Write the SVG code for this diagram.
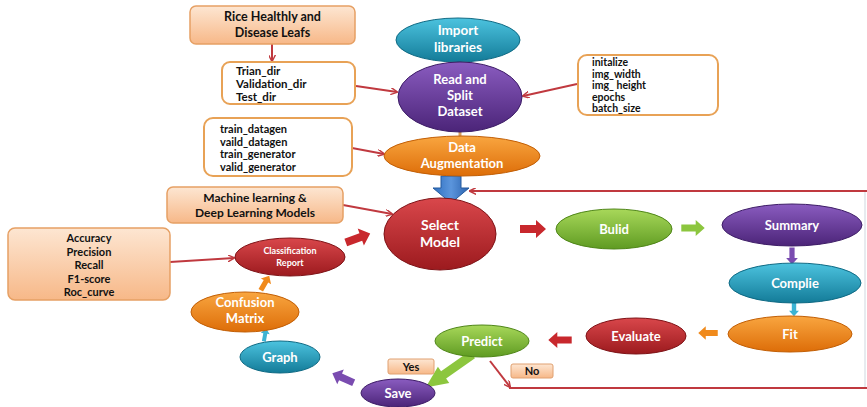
<svg xmlns="http://www.w3.org/2000/svg" width="867" height="407" viewBox="0 0 867 407">
<style>
text{font-family:Lato,"Open Sans","Liberation Sans",sans-serif;font-weight:bold}
.bx{fill:url(#peach);stroke:#e6a064;stroke-width:1.5}
.wb{fill:#fff;stroke:#e8a256;stroke-width:2}
.bt{font-size:12px;fill:#111}
.et{font-size:13px;fill:#fff;text-anchor:middle}
.ln{fill:none;stroke:#c0393f;stroke-width:2}
.tan{fill:none;stroke:#d8a160;stroke-width:3}
.lab{fill:url(#peach);stroke:#e0a070;stroke-width:1}
</style>
<defs>
<linearGradient id="peach" x1="0" y1="0" x2="0" y2="1"><stop offset="0" stop-color="#fde6d2"/><stop offset="1" stop-color="#f7b888"/></linearGradient>
<linearGradient id="teal" x1="0" y1="0" x2="0" y2="1"><stop offset="0" stop-color="#4cc3df"/><stop offset="1" stop-color="#137b98"/></linearGradient>
<linearGradient id="purple" x1="0" y1="0" x2="0" y2="1"><stop offset="0" stop-color="#8a5cc0"/><stop offset="1" stop-color="#4b2478"/></linearGradient>
<linearGradient id="orange" x1="0" y1="0" x2="0" y2="1"><stop offset="0" stop-color="#f9a640"/><stop offset="1" stop-color="#dd6d08"/></linearGradient>
<linearGradient id="red" x1="0" y1="0" x2="0" y2="1"><stop offset="0" stop-color="#d9474b"/><stop offset="1" stop-color="#9c1a1e"/></linearGradient>
<linearGradient id="green" x1="0" y1="0" x2="0" y2="1"><stop offset="0" stop-color="#a8d85a"/><stop offset="1" stop-color="#5f9b22"/></linearGradient>
<linearGradient id="blue" x1="0" y1="0" x2="1" y2="0"><stop offset="0" stop-color="#2f6fc0"/><stop offset="0.5" stop-color="#5b95dc"/><stop offset="1" stop-color="#2a62ae"/></linearGradient>
<path id="blk" d="M-13,-4 L3,-4 L3,-9 L13,0 L3,9 L3,4 L-13,4 Z"/>
<marker id="ah" viewBox="0 0 10 10" refX="9" refY="5" markerWidth="7" markerHeight="7" orient="auto" markerUnits="userSpaceOnUse"><path d="M0,0 L10,5 L0,10" fill="none" stroke="#c0393f" stroke-width="2"/></marker>
</defs>

<g id="connectors">
<line class="tan" x1="460" y1="60" x2="460" y2="65"/>
<line class="tan" x1="460" y1="130" x2="460" y2="138"/>
<line class="ln" x1="272" y1="44" x2="272" y2="61" marker-end="url(#ah)"/>
<line class="ln" x1="356" y1="86" x2="397" y2="92" marker-end="url(#ah)"/>
<line class="ln" x1="577" y1="84" x2="523" y2="96" marker-end="url(#ah)"/>
<line class="ln" x1="352" y1="148" x2="384" y2="154" marker-end="url(#ah)"/>
<line class="ln" x1="343" y1="205" x2="392" y2="214" marker-end="url(#ah)"/>
<line class="ln" x1="170" y1="262" x2="234" y2="258" marker-end="url(#ah)"/>
<line class="ln" x1="867" y1="191" x2="470" y2="191" marker-end="url(#ah)"/>
<line class="ln" x1="490" y1="361" x2="510" y2="387" marker-end="url(#ah)"/>
<line class="ln" x1="509" y1="388" x2="867" y2="388"/>
<line x1="865" y1="192" x2="865" y2="387" stroke="#dfe4ea" stroke-width="1.5"/>
<path d="M441,176 L461,176 L461,188 L469,188 L451,203 L433,188 L441,188 Z" fill="url(#blue)" stroke="#245a9e" stroke-width="1"/>
<use href="#blk" fill="#c8282d" transform="translate(533,229)"/>
<use href="#blk" fill="#8cc63e" transform="translate(693,228) scale(0.9)"/>
<use href="#blk" fill="#7a4cb0" transform="translate(792,256) rotate(90) scale(0.65)"/>
<use href="#blk" fill="#3cb3d3" transform="translate(794,309) rotate(90) scale(0.55)"/>
<use href="#blk" fill="#f08a1c" transform="translate(708,333) rotate(180) scale(0.75)"/>
<use href="#blk" fill="#c8282d" transform="translate(560,340) rotate(180) scale(0.9)"/>
<use href="#blk" fill="#8cc63e" transform="translate(449,371) rotate(145) scale(2.2,1.1)"/>
<use href="#blk" fill="#7a4cb0" transform="translate(343,378) rotate(-156) scale(0.9)"/>
<use href="#blk" fill="#3cb3d3" transform="translate(265,335) rotate(-80) scale(0.5)"/>
<use href="#blk" fill="#f08a1c" transform="translate(265,283) rotate(-60) scale(0.65)"/>
<use href="#blk" fill="#c8282d" transform="translate(358,238) rotate(-20)"/>
</g>

<g id="rice">
<rect class="bx" x="190" y="6" width="165" height="38" rx="6"/>
<text class="bt" x="272.5" y="21" text-anchor="middle" style="font-size:12.5px">Rice Healthly and</text>
<text class="bt" x="272.5" y="37" text-anchor="middle" style="font-size:12.5px">Disease Leafs</text>
</g>
<g id="dirs">
<rect class="wb" x="222" y="62" width="133" height="42" rx="8"/>
<text class="bt" x="236" y="75" style="font-size:11.5px">Trian_dir</text>
<text class="bt" x="236" y="88" style="font-size:11.5px">Validation_dir</text>
<text class="bt" x="236" y="101" style="font-size:11.5px">Test_dir</text>
</g>
<g id="init">
<rect class="wb" x="578" y="55" width="140" height="60" rx="9"/>
<text class="bt" x="592" y="66" style="font-size:10.5px">initalize</text>
<text class="bt" x="592" y="77.5" style="font-size:10.5px">img_width</text>
<text class="bt" x="592" y="89" style="font-size:10.5px">img_ height</text>
<text class="bt" x="592" y="100.5" style="font-size:10.5px">epochs</text>
<text class="bt" x="592" y="112" style="font-size:10.5px">batch_size</text>
</g>
<g id="gens">
<rect class="wb" x="204" y="118" width="148" height="58" rx="9"/>
<text class="bt" x="220" y="133" style="font-size:11px">train_datagen</text>
<text class="bt" x="220" y="145.5" style="font-size:11px">vaild_datagen</text>
<text class="bt" x="220" y="158" style="font-size:11px">train_generator</text>
<text class="bt" x="220" y="170.5" style="font-size:11px">valid_generator</text>
</g>
<g id="models">
<rect class="bx" x="167" y="187" width="176" height="36" rx="6"/>
<text class="bt" x="255" y="202" text-anchor="middle">Machine learning &amp;</text>
<text class="bt" x="255" y="217" text-anchor="middle">Deep Learning  Models</text>
</g>
<g id="metrics">
<rect class="bx" x="8" y="228" width="162" height="72" rx="7"/>
<text class="bt" x="89" y="242" text-anchor="middle" style="font-size:11px">Accuracy</text>
<text class="bt" x="89" y="255.5" text-anchor="middle" style="font-size:11px">Precision</text>
<text class="bt" x="89" y="269" text-anchor="middle" style="font-size:11px">Recall</text>
<text class="bt" x="89" y="282.5" text-anchor="middle" style="font-size:11px">F1-score</text>
<text class="bt" x="89" y="296" text-anchor="middle" style="font-size:11px">Roc_curve</text>
</g>

<g id="import">
<ellipse cx="458" cy="40" rx="62" ry="22" fill="url(#teal)" stroke="#0f6a84"/>
<text class="et" x="458" y="35" style="font-size:13.5px">Import</text>
<text class="et" x="458" y="52" style="font-size:13.5px">libraries</text>
</g>
<g id="read">
<ellipse cx="460" cy="97" rx="62" ry="35" fill="url(#purple)" stroke="#3d1c66"/>
<text class="et" x="460" y="84">Read and</text>
<text class="et" x="460" y="100">Split</text>
<text class="et" x="460" y="116">Dataset</text>
</g>
<g id="augment">
<ellipse cx="462" cy="156" rx="78" ry="20" fill="url(#orange)" stroke="#c25f06"/>
<text class="et" x="462" y="152">Data</text>
<text class="et" x="462" y="168">Augmentation</text>
</g>
<g id="select">
<ellipse cx="440" cy="234" rx="56" ry="36" fill="url(#red)" stroke="#7e1216"/>
<text class="et" x="440" y="230" style="font-size:14px">Select</text>
<text class="et" x="440" y="247" style="font-size:14px">Model</text>
</g>
<g id="build">
<ellipse cx="614" cy="229" rx="58" ry="20" fill="url(#green)" stroke="#4f8618"/>
<text class="et" x="614" y="234">Bulid</text>
</g>
<g id="summary">
<ellipse cx="792" cy="225" rx="70" ry="21" fill="url(#purple)" stroke="#3d1c66"/>
<text class="et" x="792" y="230">Summary</text>
</g>
<g id="compile">
<ellipse cx="795" cy="283" rx="66" ry="20" fill="url(#teal)" stroke="#0f6a84"/>
<text class="et" x="795" y="288">Complie</text>
</g>
<g id="fit">
<ellipse cx="790" cy="334" rx="62" ry="18" fill="url(#orange)" stroke="#c25f06"/>
<text class="et" x="790" y="339">Fit</text>
</g>
<g id="evaluate">
<ellipse cx="636" cy="336" rx="50" ry="18" fill="url(#red)" stroke="#7e1216"/>
<text class="et" x="636" y="341">Evaluate</text>
</g>
<g id="predict">
<ellipse cx="482" cy="341" rx="47" ry="16" fill="url(#green)" stroke="#4f8618"/>
<text class="et" x="482" y="346">Predict</text>
</g>
<g id="yes">
<rect class="lab" x="388" y="359" width="46" height="15" rx="2"/>
<text class="bt" x="411" y="371" text-anchor="middle" style="font-size:11px">Yes</text>
</g>
<g id="no">
<rect class="lab" x="511" y="364" width="42" height="14" rx="2"/>
<text class="bt" x="532" y="375" text-anchor="middle" style="font-size:11px">No</text>
</g>
<g id="save">
<ellipse cx="398" cy="393" rx="37" ry="14" fill="url(#purple)" stroke="#3d1c66"/>
<text class="et" x="398" y="398">Save</text>
</g>
<g id="graph">
<ellipse cx="280" cy="357" rx="40" ry="16" fill="url(#teal)" stroke="#0f6a84"/>
<text class="et" x="280" y="362">Graph</text>
</g>
<g id="confusion">
<ellipse cx="245" cy="312" rx="54" ry="20" fill="url(#orange)" stroke="#c25f06"/>
<text class="et" x="245" y="307">Confusion</text>
<text class="et" x="245" y="323">Matrix</text>
</g>
<g id="classification">
<ellipse cx="290" cy="257" rx="55" ry="19" fill="url(#red)" stroke="#7e1216"/>
<text class="et" x="290" y="254" style="font-size:9px">Classification</text>
<text class="et" x="290" y="266" style="font-size:9px">Report</text>
</g>
</svg>
